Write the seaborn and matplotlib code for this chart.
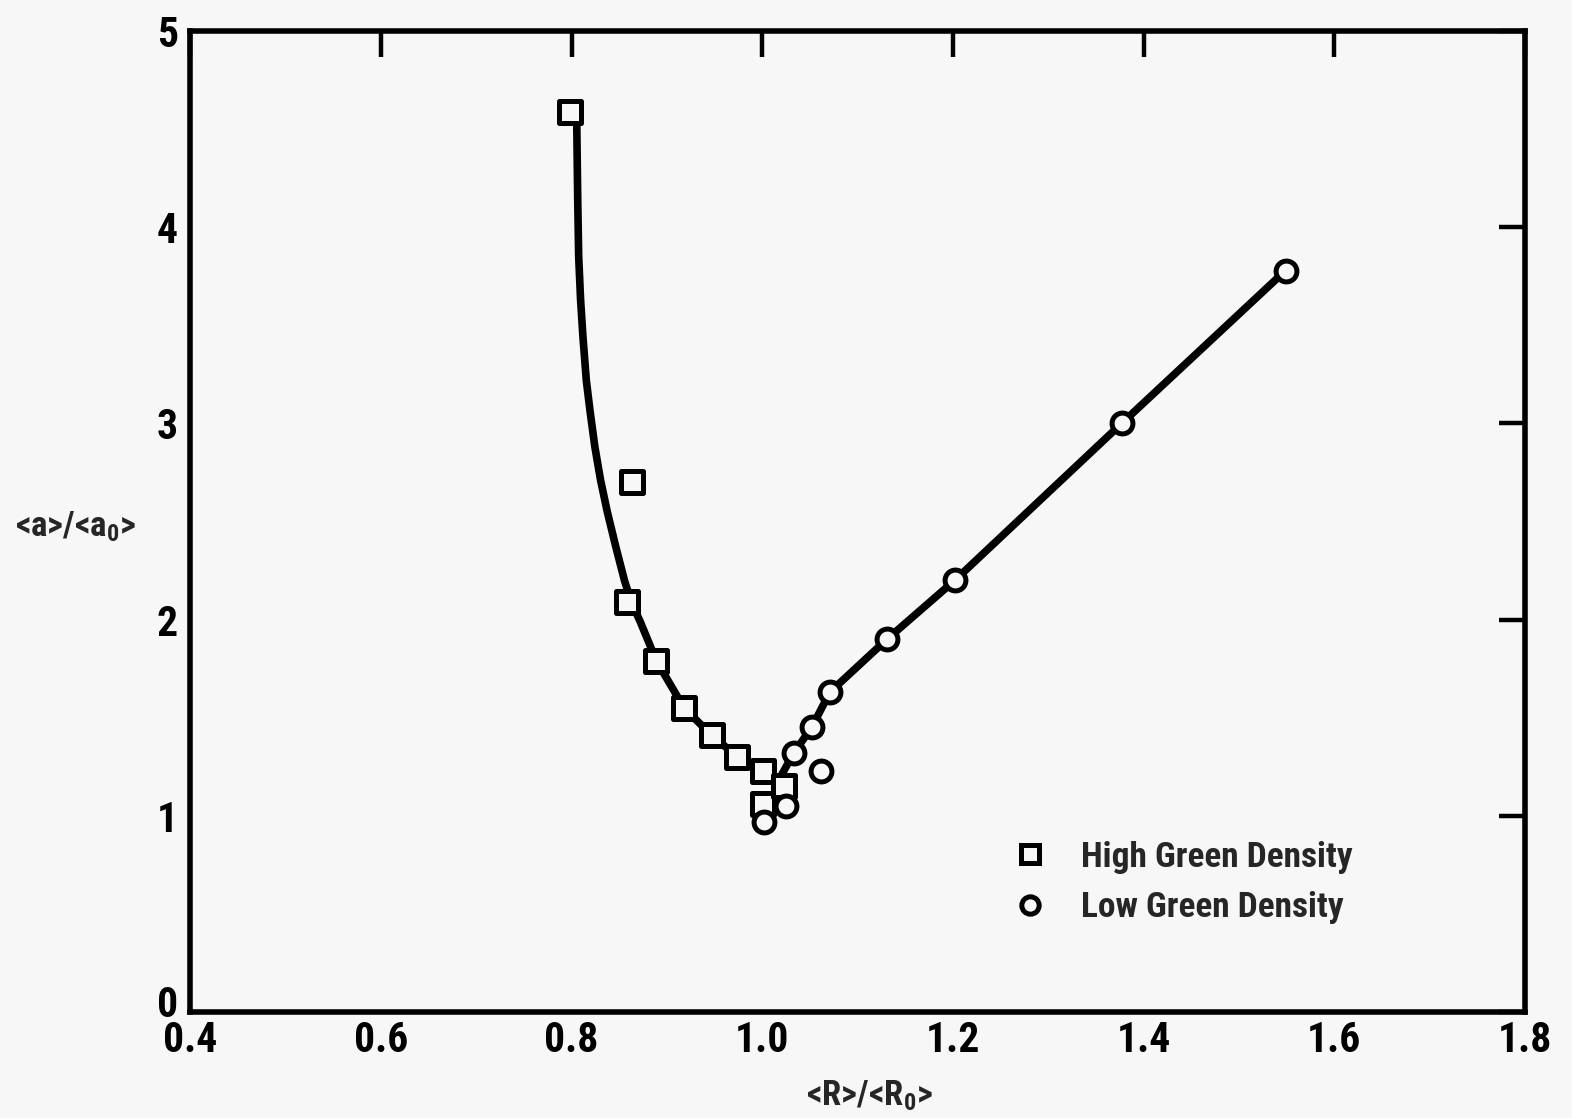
import matplotlib
matplotlib.use("Agg")
import matplotlib.pyplot as plt
import matplotlib.transforms as mtransforms
from matplotlib import font_manager
import seaborn as sns
import pandas as pd
from matplotlib.lines import Line2D

# High green density (squares)
high_x = [0.798, 0.863, 0.858, 0.889, 0.918, 0.947, 0.974, 1.001, 1.001, 1.023]
high_y = [4.59, 2.70, 2.09, 1.79, 1.55, 1.41, 1.30, 1.23, 1.06, 1.15]

# Low green density (circles)
low_x = [1.002, 1.025, 1.033, 1.052, 1.071, 1.062, 1.131, 1.202, 1.377, 1.549]
low_y = [0.97, 1.05, 1.32, 1.45, 1.63, 1.23, 1.90, 2.20, 3.00, 3.78]

# Fitted curve (left branch)
curve_x = [0.805, 0.8055, 0.8065, 0.8075, 0.8095, 0.812, 0.8155, 0.8195, 0.8245, 0.8305,
           0.8375, 0.8465, 0.8555, 0.8625, 0.872, 0.889, 0.918, 0.947, 0.974, 1.001, 1.017]
curve_y = [4.58, 4.52, 4.14, 3.85, 3.63, 3.44, 3.22, 3.06, 2.88, 2.71,
           2.55, 2.37, 2.20, 2.09, 1.99, 1.79, 1.55, 1.41, 1.30, 1.22, 1.16]

# Right branch line
line_x = [1.015, 1.033, 1.052, 1.071, 1.131, 1.202, 1.377, 1.549]
line_y = [1.16, 1.32, 1.45, 1.63, 1.90, 2.20, 3.00, 3.78]

x_ticks = [0.4, 0.6, 0.8, 1.0, 1.2, 1.4, 1.6, 1.8]
x_labels = ["0.4", "0.6", "0.8", "1.0", "1.2", "1.4", "1.6", "1.8"]
y_ticks = [0, 1, 2, 3, 4, 5]
y_labels = ["0", "1", "2", "3", "4", "5"]
legend_labels = ["High Green Density", "Low Green Density"]

sns.set_theme(style="white")
bg = "#f7f7f7"

# pick a condensed bold sans if one is available
avail = {(f.name, f.stretch) for f in font_manager.fontManager.ttflist}
names = {f.name for f in font_manager.fontManager.ttflist}
stretch = "normal"
narrow = True
if "Roboto Condensed" in names:
    fam = "Roboto Condensed"
elif "Liberation Sans Narrow" in names:
    fam = "Liberation Sans Narrow"
elif any(n == "DejaVu Sans" and s in ("condensed", 75, "semi-condensed") for n, s in avail):
    fam = "DejaVu Sans"
    stretch = "condensed"
else:
    fam = "Liberation Sans"
    narrow = False

plt.rcParams["font.family"] = [fam, "DejaVu Sans"]
plt.rcParams["font.stretch"] = stretch
plt.rcParams["font.weight"] = "bold"
plt.rcParams["mathtext.default"] = "regular"

tick_fs = 30 if narrow else 25
leg_fs = 25.5 if narrow else 22
lab_fs = 25 if narrow else 22

fig = plt.figure(figsize=(15.72, 11.18), dpi=100, facecolor=bg)
ax = fig.add_axes([0.121, 0.095, 0.849, 0.877])
ax.set_facecolor(bg)

df_curve = pd.DataFrame({"x": curve_x, "y": curve_y})
df_line = pd.DataFrame({"x": line_x, "y": line_y})
sns.lineplot(data=df_curve, x="x", y="y", sort=False, color="black", lw=5.5, ax=ax, zorder=2)
sns.lineplot(data=df_line, x="x", y="y", sort=False, color="black", lw=5.5, ax=ax, zorder=2)

df_high = pd.DataFrame({"x": high_x, "y": high_y})
df_low = pd.DataFrame({"x": low_x, "y": low_y})
sns.scatterplot(data=df_high, x="x", y="y", marker="s", s=240, facecolor=bg,
                edgecolor="black", linewidth=3.6, ax=ax, zorder=3)
sns.scatterplot(data=df_low, x="x", y="y", marker="o", s=225, facecolor=bg,
                edgecolor="black", linewidth=3.6, ax=ax, zorder=3)

ax.set_xlim(0.4, 1.8)
ax.set_ylim(0, 5)
ax.set_xticks(x_ticks)
ax.set_xticklabels(x_labels)
ax.set_yticks(y_ticks)
ax.set_yticklabels(y_labels)
ax.tick_params(direction="in", length=19, width=3.2, top=True, right=True,
               labelsize=tick_fs, colors="black")
ax.tick_params(axis="x", pad=6)
ax.tick_params(axis="y", pad=9)
for lab in ax.get_xticklabels() + ax.get_yticklabels():
    lab.set_fontweight("bold")
# lift the "0" label slightly, as in the original
zero = ax.get_yticklabels()[0]
zero.set_transform(zero.get_transform() + mtransforms.ScaledTranslation(0, 11 / 100, fig.dpi_scale_trans))

for sp in ax.spines.values():
    sp.set_linewidth(4)
    sp.set_color("black")

ax.set_xlabel("<R>/<R$_0$>", fontsize=lab_fs, fontweight="bold")
ax.xaxis.set_label_coords(0.509, -0.068)
ax.set_ylabel("<a>/<a$_0$>", fontsize=lab_fs, fontweight="bold", rotation=0, ha="center", va="center")
ax.yaxis.set_label_coords(-0.086, 0.495)

handles = [
    Line2D([], [], marker="s", ls="none", mfc=bg, mec="black", mew=3.6, ms=13),
    Line2D([], [], marker="o", ls="none", mfc=bg, mec="black", mew=3.6, ms=12.5),
]
leg = ax.legend(handles, legend_labels, loc="center left",
                bbox_to_anchor=(0.616, 0.132), frameon=False, fontsize=leg_fs,
                handlelength=1.0, handletextpad=0.95, labelspacing=0.5,
                borderaxespad=0, borderpad=0)
for t in leg.get_texts():
    t.set_fontweight("bold")

fig.savefig("out.png", dpi=100, facecolor=bg)
